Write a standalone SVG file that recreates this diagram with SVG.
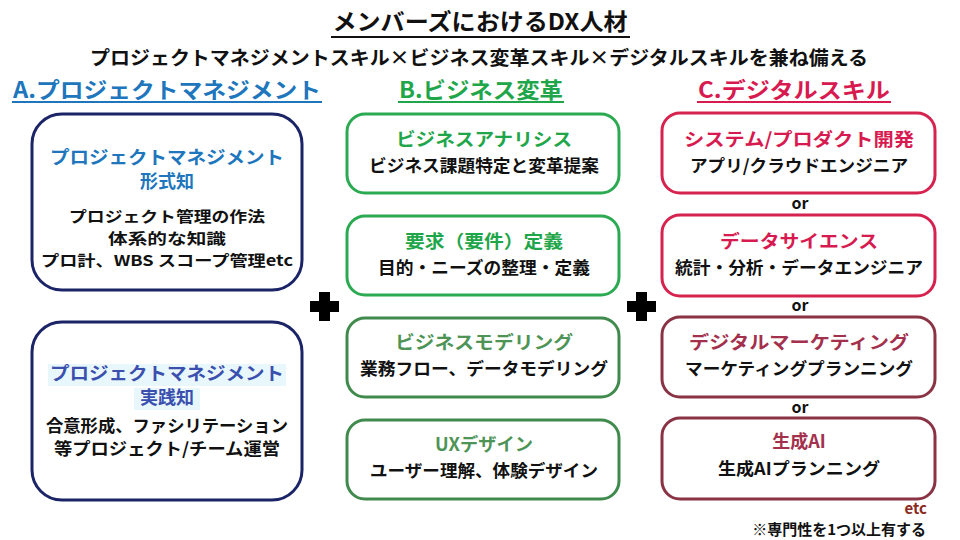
<svg xmlns="http://www.w3.org/2000/svg" width="960" height="540" viewBox="0 0 960 540">
<style>
text{font-family:"Noto Sans CJK JP","Noto Sans",sans-serif;font-weight:bold;text-anchor:middle}
.title{font-size:23px;fill:#111}
.sub{font-size:19px;fill:#111}
.hA{font-size:22px;fill:#2076BC}
.hB{font-size:22px;fill:#1FA64A}
.hC{font-size:22px;fill:#D71A4F}
.body{font-size:17px;fill:#111}
.bodys{font-size:15px;fill:#111}
.t{font-size:18px}
.boxA{fill:#fff;stroke:#1B2466;stroke-width:3}
.boxB1{fill:#fff;stroke:#2BAA52;stroke-width:3}
.boxB2{fill:#fff;stroke:#3F8A4C;stroke-width:3}
.boxC1{fill:#fff;stroke:#D5224F;stroke-width:3}
.boxC2{fill:#fff;stroke:#8A3344;stroke-width:3}
.or{font-size:16px;fill:#111}
</style>
<rect width="960" height="540" fill="#fff"/>
<g id="header">
<text class="title" x="480" y="30" textLength="295" lengthAdjust="spacingAndGlyphs">メンバーズにおけるDX人材</text>
<line x1="331" y1="37" x2="630" y2="37" stroke="#111" stroke-width="2"/>
<text class="sub" x="479" y="65" textLength="778" lengthAdjust="spacingAndGlyphs">プロジェクトマネジメントスキル×ビジネス変革スキル×デジタルスキルを兼ね備える</text>
</g>
<g id="colA-head">
<text class="hA" x="167" y="98" textLength="308" lengthAdjust="spacingAndGlyphs">A.プロジェクトマネジメント</text>
<line x1="12" y1="102" x2="322" y2="102" stroke="#2076BC" stroke-width="2"/>
</g>
<g id="colB-head">
<text class="hB" x="481" y="98" textLength="164" lengthAdjust="spacingAndGlyphs">B.ビジネス変革</text>
<line x1="398" y1="102" x2="564" y2="102" stroke="#1FA64A" stroke-width="2"/>
</g>
<g id="colC-head">
<text class="hC" x="794" y="98" textLength="192" lengthAdjust="spacingAndGlyphs">C.デジタルスキル</text>
<line x1="697" y1="102" x2="891" y2="102" stroke="#D71A4F" stroke-width="2"/>
</g>
<g id="A1">
<rect class="boxA" x="32" y="114" width="270" height="176" rx="30"/>
<text class="t" x="167" y="164" fill="#2076BC" textLength="234" lengthAdjust="spacingAndGlyphs">プロジェクトマネジメント</text>
<text class="t" x="167" y="188" fill="#2076BC">形式知</text>
<text class="bodys" x="167" y="222" textLength="196" lengthAdjust="spacingAndGlyphs">プロジェクト管理の作法</text>
<text class="bodys" x="167" y="244" textLength="118" lengthAdjust="spacingAndGlyphs">体系的な知識</text>
<text class="bodys" x="167" y="266" textLength="252" lengthAdjust="spacingAndGlyphs">プロ計、WBS スコープ管理etc</text>
</g>
<g id="A2">
<rect class="boxA" x="32" y="322" width="270" height="178" rx="30"/>
<rect x="48" y="364" width="238" height="22" fill="#E8F7FC"/>
<rect x="134" y="388" width="66" height="22" fill="#E8F7FC"/>
<text class="t" x="167" y="380" fill="#3A4FAE" textLength="234" lengthAdjust="spacingAndGlyphs">プロジェクトマネジメント</text>
<text class="t" x="167" y="404" fill="#3A4FAE">実践知</text>
<text class="body" x="167" y="432" textLength="242" lengthAdjust="spacingAndGlyphs">合意形成、ファシリテーション</text>
<text class="body" x="167" y="455" textLength="226" lengthAdjust="spacingAndGlyphs">等プロジェクト/チーム運営</text>
</g>
<g id="plus1"><path d="M319 292h11v9h9v11h-9v9h-11v-9h-9v-11h9z" fill="#000"/></g>
<g id="plus2"><path d="M636 292h11v9h9v11h-9v9h-11v-9h-9v-11h9z" fill="#000"/></g>
<g id="B1">
<rect class="boxB1" x="347" y="114" width="272" height="79" rx="18"/>
<text class="t" x="484" y="146" fill="#1FA64A" textLength="176" lengthAdjust="spacingAndGlyphs">ビジネスアナリシス</text>
<text class="body" x="484" y="172" textLength="230" lengthAdjust="spacingAndGlyphs">ビジネス課題特定と変革提案</text>
</g>
<g id="B2">
<rect class="boxB1" x="347" y="216" width="272" height="79" rx="18"/>
<text class="t" x="484" y="248" fill="#1FA64A" textLength="158" lengthAdjust="spacingAndGlyphs">要求（要件）定義</text>
<text class="body" x="484" y="274" textLength="212" lengthAdjust="spacingAndGlyphs">目的・ニーズの整理・定義</text>
</g>
<g id="B3">
<rect class="boxB2" x="347" y="318" width="272" height="79" rx="18"/>
<text class="t" x="484" y="349" fill="#4E9456" textLength="178" lengthAdjust="spacingAndGlyphs">ビジネスモデリング</text>
<text class="body" x="484" y="375" textLength="248" lengthAdjust="spacingAndGlyphs">業務フロー、データモデリング</text>
</g>
<g id="B4">
<rect class="boxB2" x="347" y="420" width="272" height="79" rx="18"/>
<text class="t" x="484" y="451" fill="#4E9456" textLength="98" lengthAdjust="spacingAndGlyphs">UXデザイン</text>
<text class="body" x="484" y="477" textLength="228" lengthAdjust="spacingAndGlyphs">ユーザー理解、体験デザイン</text>
</g>
<g id="C1">
<rect class="boxC1" x="662" y="113" width="273" height="80" rx="18"/>
<text class="t" x="799" y="146" fill="#D71A4F" textLength="230" lengthAdjust="spacingAndGlyphs">システム/プロダクト開発</text>
<text class="body" x="799" y="172" textLength="218" lengthAdjust="spacingAndGlyphs">アプリ/クラウドエンジニア</text>
</g>
<text class="or" x="800" y="209">or</text>
<g id="C2">
<rect class="boxC1" x="662" y="215" width="273" height="81" rx="18"/>
<text class="t" x="799" y="248" fill="#D71A4F" textLength="158" lengthAdjust="spacingAndGlyphs">データサイエンス</text>
<text class="body" x="799" y="274" textLength="248" lengthAdjust="spacingAndGlyphs">統計・分析・データエンジニア</text>
</g>
<text class="or" x="800" y="311">or</text>
<g id="C3">
<rect class="boxC2" x="662" y="317" width="273" height="80" rx="18"/>
<text class="t" x="799" y="349" fill="#A3304C" textLength="220" lengthAdjust="spacingAndGlyphs">デジタルマーケティング</text>
<text class="body" x="799" y="375" textLength="228" lengthAdjust="spacingAndGlyphs">マーケティングプランニング</text>
</g>
<text class="or" x="800" y="413">or</text>
<g id="C4">
<rect class="boxC2" x="662" y="418" width="273" height="81" rx="18"/>
<text class="t" x="799" y="448" fill="#A3304C">生成AI</text>
<text class="body" x="799" y="475" textLength="162" lengthAdjust="spacingAndGlyphs">生成AIプランニング</text>
</g>
<text x="927" y="514" font-size="15" fill="#8B2A1E" style="text-anchor:end">etc</text>
<text x="926" y="535" font-size="15" fill="#111" style="text-anchor:end">※専門性を1つ以上有する</text>
</svg>
